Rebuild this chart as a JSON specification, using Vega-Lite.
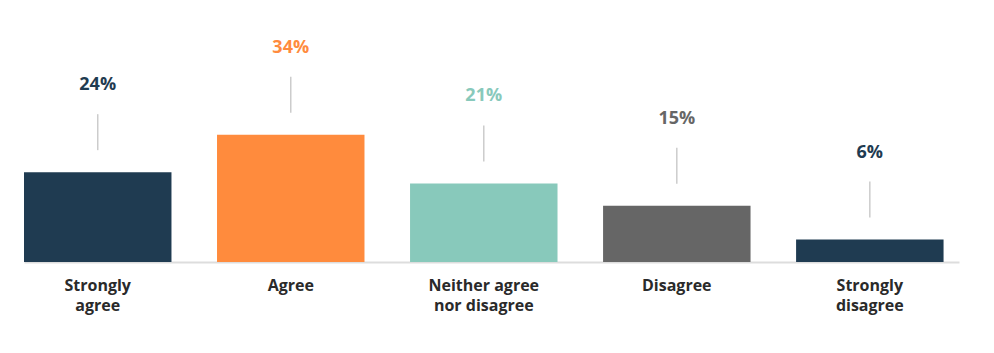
{
  "$schema": "https://vega.github.io/schema/vega-lite/v6.json",
  "autosize": "none",
  "width": 935,
  "height": 262,
  "padding": {"left": 24, "top": 0, "right": 35, "bottom": 91},
  "background": "white",
  "config": {"view": {"stroke": null}, "font": "Open Sans"},
  "data": {
    "values": [
      {"answer": "Strongly agree", "pct": 24, "label": "24%", "color": "#1f3b51"},
      {"answer": "Agree", "pct": 34, "label": "34%", "color": "#ff8b3d"},
      {"answer": "Neither agree nor disagree", "pct": 21, "label": "21%", "color": "#88c9bb"},
      {"answer": "Disagree", "pct": 15, "label": "15%", "color": "#666666"},
      {"answer": "Strongly disagree", "pct": 6, "label": "6%", "color": "#1f3b51"}
    ]
  },
  "encoding": {
    "x": {
      "field": "answer",
      "type": "nominal",
      "sort": null,
      "scale": {"paddingInner": 0.236, "paddingOuter": 0.04, "align": 0},
      "axis": {
        "title": null,
        "labelAngle": 0,
        "ticks": false,
        "domainColor": "#dddddd",
        "domainWidth": 2,
        "labelFont": "Open Sans",
        "labelFontWeight": "bold",
        "labelFontSize": 16,
        "labelColor": "#2a2a2a",
        "labelBaseline": "top",
        "labelLineHeight": 20,
        "labelPadding": 15,
        "labelExpr": "datum.label == 'Neither agree nor disagree' ? ['Neither agree', 'nor disagree'] : split(datum.label, ' ')"
      }
    },
    "y": {
      "field": "pct",
      "type": "quantitative",
      "scale": {"domain": [0, 70]},
      "axis": null
    }
  },
  "layer": [
    {
      "mark": {"type": "bar"},
      "encoding": {"color": {"field": "color", "type": "nominal", "scale": null}}
    },
    {
      "mark": {"type": "rule", "color": "#cccccc", "strokeWidth": 1.5, "yOffset": -58, "y2Offset": -22},
      "encoding": {"y2": {"field": "pct"}}
    },
    {
      "mark": {"type": "text", "font": "Open Sans", "fontWeight": "bold", "fontSize": 18, "baseline": "middle", "dy": -87},
      "encoding": {
        "text": {"field": "label", "type": "nominal"},
        "color": {"field": "color", "type": "nominal", "scale": null}
      }
    }
  ]
}
